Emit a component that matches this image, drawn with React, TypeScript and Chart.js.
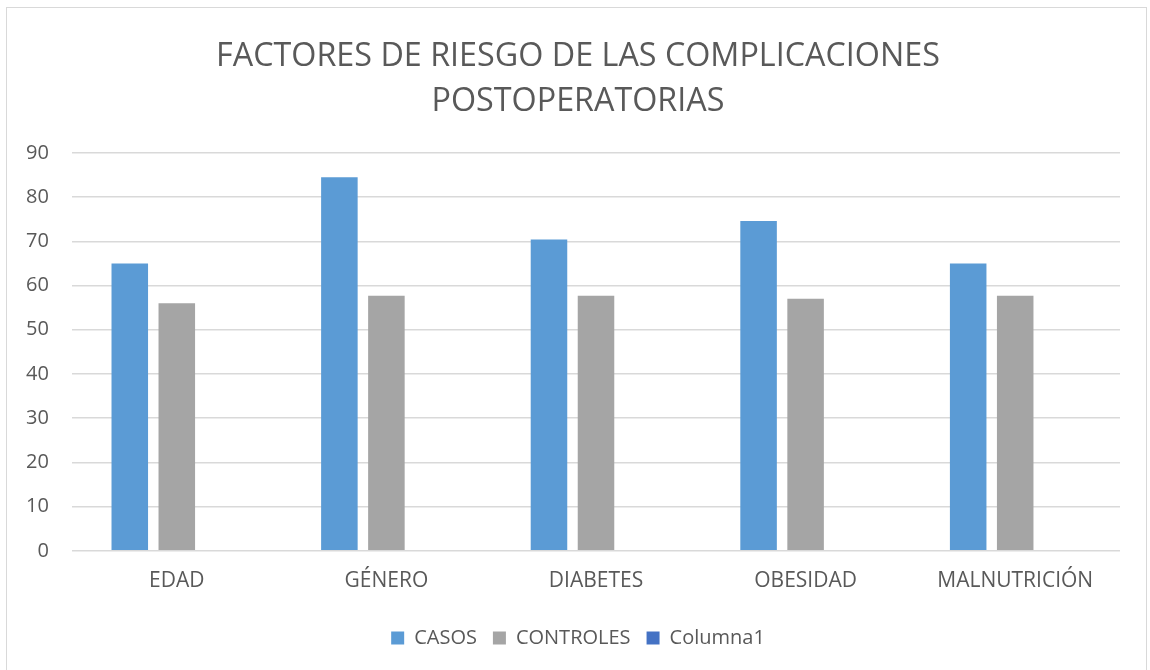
import React, { useEffect, useRef } from "react";
import { Chart, registerables } from "chart.js";

Chart.register(...registerables);

const categories = ["EDAD", "GÉNERO", "DIABETES", "OBESIDAD", "MALNUTRICIÓN"];
const casos = [65, 84.5, 70.4, 74.6, 65];
const controles = [56, 57.7, 57.7, 57, 57.7];
const columna1: (number | null)[] = [null, null, null, null, null];
const titleLines = ["FACTORES DE RIESGO DE LAS COMPLICACIONES", "POSTOPERATORIAS"];

const TEXT = "#595959";
const FONT = "'Open Sans', sans-serif";

export default function App() {
  const ref = useRef<HTMLCanvasElement>(null);
  useEffect(() => {
    if (!ref.current) return;
    const chart = new Chart(ref.current, {
      type: "bar",
      data: {
        labels: categories,
        datasets: [
          { label: "CASOS", data: casos, backgroundColor: "#5B9BD5" },
          { label: "CONTROLES", data: controles, backgroundColor: "#A5A5A5" },
          { label: "Columna1", data: columna1, backgroundColor: "#4472C4" },
        ],
      },
      options: {
        responsive: false,
        animation: false,
        datasets: { bar: { categoryPercentage: 0.673, barPercentage: 0.777 } },
        layout: { padding: { left: 36, right: 30, top: 0, bottom: 12 } },
        plugins: {
          title: {
            display: true,
            text: titleLines,
            color: TEXT,
            font: { family: FONT, size: 32.3, weight: "400", lineHeight: 1.393 },
            padding: { top: 34, bottom: 29 },
          },
          legend: {
            position: "bottom",
            labels: {
              color: TEXT,
              font: { family: FONT, size: 20 },
              boxWidth: 13,
              boxHeight: 13,
              padding: 16,
            },
          },
          tooltip: { enabled: false },
        },
        scales: {
          x: {
            grid: { display: false, drawTicks: false },
            border: { display: false },
            ticks: { color: TEXT, font: { family: FONT, size: 21 }, padding: 18 },
          },
          y: {
            min: 0,
            max: 90,
            grid: { color: "#D9D9D9", lineWidth: 1.5, drawTicks: false },
            border: { display: false },
            ticks: {
              stepSize: 10,
              color: TEXT,
              font: { family: FONT, size: 20 },
              mirror: true,
              crossAlign: "far",
              padding: -46,
            },
            afterFit: (scale: any) => {
              scale.width = 36;
            },
          },
        },
      },
    });
    return () => chart.destroy();
  }, []);
  return (
    <div style={{ position: "absolute", left: 0, top: 0, width: 1150, height: 670, background: "#fff" }}>
      <canvas ref={ref} width={1150} height={670} style={{ position: "absolute", left: 0, top: 0 }} />
      <div
        style={{
          position: "absolute",
          left: 6,
          top: 7,
          width: 1141,
          height: 680,
          border: "1.5px solid #D9D9D9",
          boxSizing: "border-box",
          pointerEvents: "none",
        }}
      />
    </div>
  );
}
